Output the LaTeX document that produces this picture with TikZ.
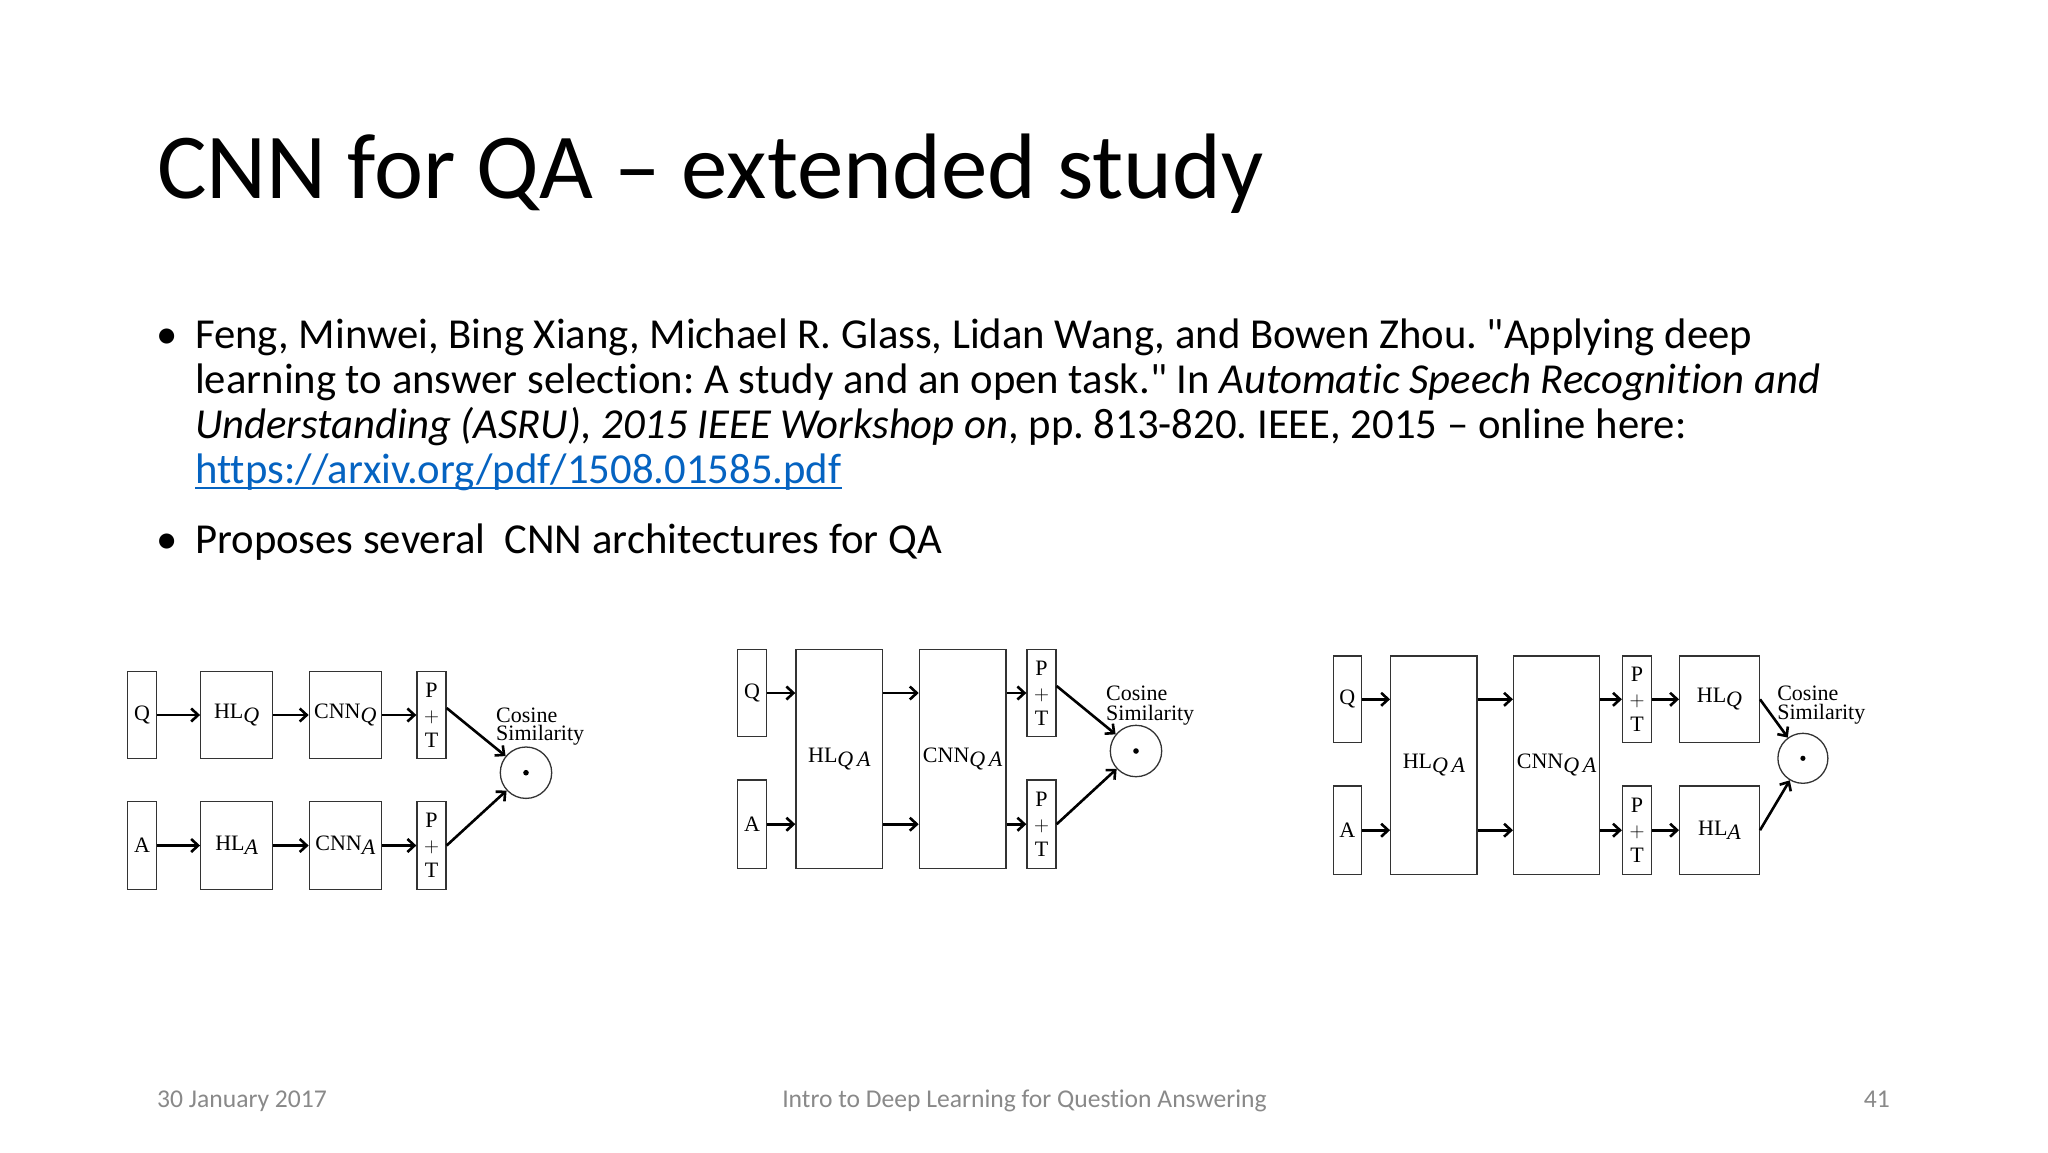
\documentclass[tikz,border=0pt]{standalone}
\usepackage{fontspec}
\setmainfont{Carlito}[Ligatures={NoCommon}]
\newfontfamily\plainq{Carlito}
\newfontfamily\diagfont{Liberation Serif}
\usetikzlibrary{arrows.meta}
\definecolor{linkblue}{HTML}{0563C1}
\definecolor{footgray}{HTML}{898989}
\newcommand\lsub[1]{\raisebox{-4pt}{\itshape #1}}
\newcommand\sq{{\plainq\symbol{34}}}
\frenchspacing
\begin{document}
\begin{tikzpicture}[x=1pt,y=-1pt,
  txt/.style={inner sep=0, anchor=base west},
  bodytxt/.style={txt, font=\fontsize{42.7}{48}\selectfont},
  foot/.style={inner sep=0, text=footgray, font=\fontsize{25.6}{30}\selectfont},
  box/.style={draw=black!80, line width=1.3pt, inner sep=0, align=center,
    font=\diagfont\fontsize{22}{25}\selectfont},
  cos/.style={txt, font=\diagfont\fontsize{22}{18}\selectfont},
  simcirc/.style={draw=black!80, line width=1.3pt, circle, inner sep=0},
  arr/.style={line width=2.6pt, -{Straight Barb[length=7pt,width=13pt]}}
]
\useasboundingbox[fill=white] (0,0) rectangle (2048,1152);

% title
\node[txt, font=\fontsize{93}{110}\selectfont] (title) at (157,198.3) {CNN for QA – extended study};

% bullets
\node[bodytxt] (b1) at (156,348.3) {•};
\node[bodytxt] (l1) at (195,348.3) {Feng, Minwei, Bing Xiang, Michael R. Glass, Lidan Wang, and Bowen Zhou. \sq Applying deep};
\node[bodytxt] (l2) at (195,393.3) {learning to answer selection: A study and an open task.\sq{} In \textit{Automatic Speech Recognition and}};
\node[bodytxt] (l3) at (195,438.3) {\textit{Understanding (ASRU), 2015 IEEE Workshop on}, pp. 813-820. IEEE, 2015 – online here:};
\node[bodytxt, text=linkblue] (link) at (195,483.3) {https://arxiv.org/pdf/1508.01585.pdf};
\draw[linkblue, line width=2pt] ([yshift=-5pt]link.base west) -- ([yshift=-5pt]link.base east);
\node[bodytxt] (b2) at (156,553.3) {•};
\node[bodytxt] (l5) at (195,553.3) {Proposes several \ CNN architectures for QA};

% ---------- diagram 1 ----------
\node[box, minimum width=29.4pt, minimum height=86.6pt] (q1) at (142,715) {Q};
\node[box, minimum width=72pt, minimum height=86.6pt] (hq1) at (236.7,715) {HL\lsub{Q}};
\node[box, minimum width=72pt, minimum height=86.6pt] (cq1) at (345.3,715) {CNN\lsub{Q}};
\node[box, minimum width=29pt, minimum height=86.6pt] (pt1) at (431.5,715) {P\\$+$\\T};
\node[box, minimum width=29.4pt, minimum height=87.6pt] (a1) at (142,845.5) {A};
\node[box, minimum width=72pt, minimum height=87.6pt] (ha1) at (236.7,845.5) {HL\lsub{A}};
\node[box, minimum width=72pt, minimum height=87.6pt] (ca1) at (345.3,845.5) {CNN\lsub{A}};
\node[box, minimum width=29pt, minimum height=87.6pt] (pta1) at (431.5,845.5) {P\\$+$\\T};
\node[simcirc, minimum size=51.4pt] (c1) at (526,772.7) {};
\fill (c1.center) circle (2.8pt);
\draw[arr] (q1) -- (hq1);
\draw[arr] (hq1) -- (cq1);
\draw[arr] (cq1) -- (pt1);
\draw[arr] (a1) -- (ha1);
\draw[arr] (ha1) -- (ca1);
\draw[arr] (ca1) -- (pta1);
\draw[arr] ([yshift=7pt]pt1.east) -- (c1);
\draw[arr] (pta1.east) -- (c1);
\node[cos] (cs1a) at (496,722.7) {Cosine};
\node[cos] (cs1b) at (496,740.7) {Similarity};

% ---------- diagram 2 ----------
\node[box, minimum width=29.4pt, minimum height=87.4pt] (q2) at (752,693) {Q};
\node[box, minimum width=29.4pt, minimum height=88.3pt] (a2) at (752,824.2) {A};
\node[box, minimum width=86.7pt, minimum height=219pt] (hl2) at (839.3,758.8) {HL\lsub{Q\,A}};
\node[box, minimum width=86.7pt, minimum height=219pt] (cnn2) at (962.7,758.8) {CNN\lsub{Q\,A}};
\node[box, minimum width=29pt, minimum height=87.4pt] (pt2) at (1041.5,693) {P\\$+$\\T};
\node[box, minimum width=29pt, minimum height=88.3pt] (pta2) at (1041.5,824.2) {P\\$+$\\T};
\node[simcirc, minimum size=51.4pt] (c2) at (1136,751) {};
\fill (c2.center) circle (2.8pt);
\draw[arr] (q2.east) -- (q2.east -| hl2.west);
\draw[arr] (hl2.east |- q2.east) -- (cnn2.west |- q2.east);
\draw[arr] (cnn2.east |- q2.east) -- (pt2.west);
\draw[arr] (a2.east) -- (a2.east -| hl2.west);
\draw[arr] (hl2.east |- a2.east) -- (cnn2.west |- a2.east);
\draw[arr] (cnn2.east |- a2.east) -- (pta2.west);
\draw[arr] ([yshift=7pt]pt2.east) -- (c2);
\draw[arr] (pta2.east) -- (c2);
\node[cos] (cs2a) at (1106,700.7) {Cosine};
\node[cos] (cs2b) at (1106,720) {Similarity};

% ---------- diagram 3 ----------
\node[box, minimum width=27.9pt, minimum height=86.7pt] (q3) at (1347.2,699.3) {Q};
\node[box, minimum width=27.9pt, minimum height=88.3pt] (a3) at (1347.2,830.2) {A};
\node[box, minimum width=86.4pt, minimum height=218.3pt] (hl3) at (1433.9,765.2) {HL\lsub{Q\,A}};
\node[box, minimum width=86pt, minimum height=218.3pt] (cnn3) at (1556.6,765.2) {CNN\lsub{Q\,A}};
\node[box, minimum width=28.9pt, minimum height=86.7pt] (pt3) at (1637,699.3) {P\\$+$\\T};
\node[box, minimum width=28.9pt, minimum height=88.3pt] (pta3) at (1637,830.2) {P\\$+$\\T};
\node[box, minimum width=79.7pt, minimum height=86.7pt] (hq3) at (1719.5,699.3) {HL\lsub{Q}};
\node[box, minimum width=79.7pt, minimum height=88.3pt] (ha3) at (1719.5,830.2) {HL\lsub{A}};
\node[simcirc, minimum size=50pt] (c3) at (1802.9,758.3) {};
\fill (c3.center) circle (2.6pt);
\draw[arr] (q3.east) -- (q3.east -| hl3.west);
\draw[arr] (hl3.east |- q3.east) -- (cnn3.west |- q3.east);
\draw[arr] (cnn3.east |- q3.east) -- (pt3.west);
\draw[arr] (pt3) -- (hq3);
\draw[arr] (a3.east) -- (a3.east -| hl3.west);
\draw[arr] (hl3.east |- a3.east) -- (cnn3.west |- a3.east);
\draw[arr] (cnn3.east |- a3.east) -- (pta3.west);
\draw[arr] (pta3) -- (ha3);
\draw[arr] (hq3.east) -- (c3);
\draw[arr] (ha3.east) -- (c3);
\node[cos] (cs3a) at (1777.1,700) {Cosine};
\node[cos] (cs3b) at (1777.1,719.3) {Similarity};

% footer
\node[foot, anchor=base west] (date) at (157,1107) {30 January 2017};
\node[foot, anchor=base] (ftitle) at (1024.5,1107) {Intro to Deep Learning for Question Answering};
\node[foot, anchor=base east] (page) at (1890,1107) {41};
\end{tikzpicture}
\end{document}
